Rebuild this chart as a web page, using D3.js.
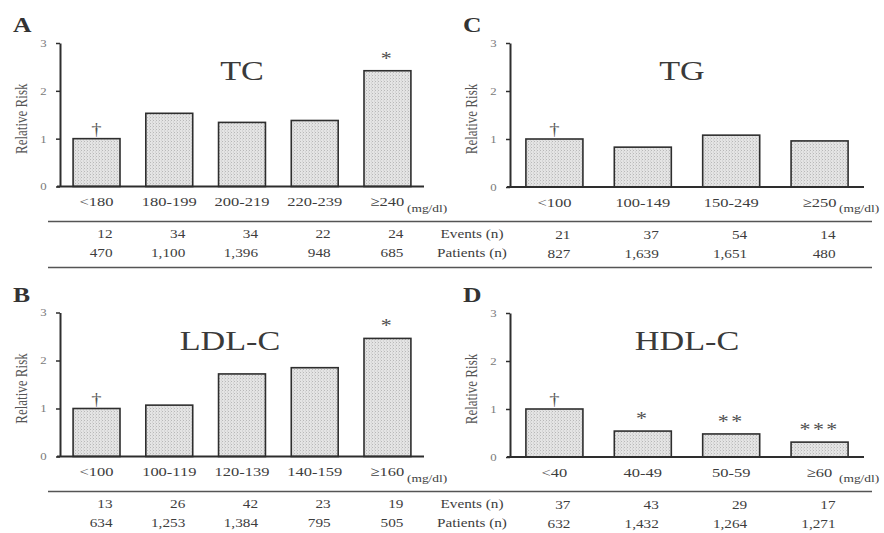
<!DOCTYPE html>
<html>
<head>
<meta charset="utf-8">
<script src="https://cdn.jsdelivr.net/npm/d3@7"></script>
<style>
  html, body { margin: 0; padding: 0; background: #ffffff; }
  svg { display: block; }
</style>
</head>
<body>
<svg id="chart" width="884" height="533"></svg>
<script>
// ---------------- DATA ----------------
const catTC = ["<180", "180-199", "200-219", "220-239", "≥240"];
const rrTC = [1.0, 1.53, 1.34, 1.38, 2.42];
const eventsTC = [12, 34, 34, 22, 24];
const patientsTC = [470, 1100, 1396, 948, 685];
const markersTC = ["†", "", "", "", "*"];

const catTG = ["<100", "100-149", "150-249", "≥250"];
const rrTG = [1.0, 0.83, 1.08, 0.96];
const eventsTG = [21, 37, 54, 14];
const patientsTG = [827, 1639, 1651, 480];
const markersTG = ["†", "", "", ""];

const catLDL = ["<100", "100-119", "120-139", "140-159", "≥160"];
const rrLDL = [1.0, 1.07, 1.72, 1.85, 2.46];
const eventsLDL = [13, 26, 42, 23, 19];
const patientsLDL = [634, 1253, 1384, 795, 505];
const markersLDL = ["†", "", "", "", "*"];

const catHDL = ["<40", "40-49", "50-59", "≥60"];
const rrHDL = [1.0, 0.54, 0.48, 0.31];
const eventsHDL = [37, 43, 29, 17];
const patientsHDL = [632, 1432, 1264, 1271];
const markersHDL = ["†", "*", "**", "***"];

const yTicks = [0, 1, 2, 3];
const unitLabel = "(mg/dl)";
const rowLabels = ["Events (n)", "Patients (n)"];
const yAxisLabel = "Relative Risk";

// ---------------- STYLE / LAYOUT ----------------
const SX = 1.22;                 // horizontal stretch of the scanned lettering
const FONT = "'Liberation Serif','Times New Roman',serif";
const TEXT = "#3d3d3d";
const LIGHT = "#7a7a7a";
const INK = "#2e2e2e";

const panels = [
  { id: "A", title: "TC",    cats: catTC,  rr: rrTC,  ev: eventsTC,  pt: patientsTC,  mk: markersTC,  x0: 60,  x1: 424, yT: 43,    yB: 186.5, tdx: 0,   udx: -17 },
  { id: "C", title: "TG",    cats: catTG,  rr: rrTG,  ev: eventsTG,  pt: patientsTG,  mk: markersTG,  x0: 510, x1: 864, yT: 43,    yB: 187,   tdx: -5,  udx: -25 },
  { id: "B", title: "LDL-C", cats: catLDL, rr: rrLDL, ev: eventsLDL, pt: patientsLDL, mk: markersLDL, x0: 60,  x1: 424, yT: 312.5, yB: 456.5, tdx: -12, udx: -17 },
  { id: "D", title: "HDL-C", cats: catHDL, rr: rrHDL, ev: eventsHDL, pt: patientsHDL, mk: markersHDL, x0: 510, x1: 864, yT: 313,   yB: 457,   tdx: 0,   udx: -25 }
];

const svg = d3.select("#chart");

// stipple pattern for bars
const defs = svg.append("defs");
const pat = defs.append("pattern").attr("id", "stip")
  .attr("width", 3).attr("height", 3).attr("patternUnits", "userSpaceOnUse");
pat.append("rect").attr("width", 3).attr("height", 3).attr("fill", "#e4e4e4");
pat.append("rect").attr("x", 0).attr("y", 0).attr("width", 1).attr("height", 1).attr("fill", "#b8b8b8");
pat.append("rect").attr("x", 2).attr("y", 1.5).attr("width", 1).attr("height", 1).attr("fill", "#c8c8c8");

function txt(g, x, y, s, o = {}) {
  return g.append("text")
    .attr("transform", `translate(${x},${y}) scale(${SX},1)` + (o.rotate ? ` rotate(${o.rotate})` : ""))
    .attr("text-anchor", o.anchor || "middle")
    .attr("font-family", FONT)
    .attr("font-size", o.size || 13)
    .attr("font-weight", o.weight || "normal")
    .attr("letter-spacing", o.ls || 0)
    .attr("fill", o.fill || TEXT)
    .text(s);
}

const fmt = d3.format(",");

panels.forEach(p => {
  const g = svg.append("g");
  const x = d3.scaleBand().domain(p.cats).range([p.x0, p.x1])
    .paddingInner(0.355).paddingOuter(0.18);
  const y = d3.scaleLinear().domain([0, 3]).range([p.yB, p.yT]);

  // bars
  g.selectAll("rect.bar").data(p.rr).enter().append("rect")
    .attr("class", "bar")
    .attr("x", (d, i) => x(p.cats[i]))
    .attr("y", d => y(d))
    .attr("width", x.bandwidth())
    .attr("height", d => y(0) - y(d))
    .attr("fill", "url(#stip)")
    .attr("stroke", INK)
    .attr("stroke-width", 1.6);

  // significance markers
  p.mk.forEach((m, i) => {
    if (!m) return;
    const cx = x(p.cats[i]) + x.bandwidth() / 2;
    if (m === "†") {
      txt(g, cx, y(p.rr[i]) - 4, m, { size: 17, fill: "#555" });
    } else {
      txt(g, cx, y(p.rr[i]) - 6, m, { size: 18, fill: "#505050", ls: 2 });
    }
  });

  // y axis
  const ya = g.append("g").attr("transform", `translate(${p.x0},0)`)
    .call(d3.axisLeft(y).tickValues(yTicks).tickSize(4).tickSizeOuter(0).tickPadding(7).tickFormat(d3.format("d")));
  ya.select(".domain").attr("stroke", INK).attr("stroke-width", 2);
  ya.selectAll(".tick line").attr("stroke", INK).attr("stroke-width", 1.5);
  ya.selectAll(".tick text")
    .attr("font-family", FONT).attr("font-size", 10.5).attr("fill", LIGHT)
    .attr("transform", `scale(${SX},1)`);

  // x axis with category labels
  const xa = g.append("g").attr("transform", `translate(0,${p.yB})`)
    .call(d3.axisBottom(x).tickSize(0).tickSizeOuter(0).tickPadding(10));
  xa.select(".domain").attr("stroke", INK).attr("stroke-width", 2)
    .attr("d", `M${p.x0 - 3},0H${p.x1}`);
  xa.selectAll(".tick text")
    .attr("font-family", FONT).attr("font-size", 13.5).attr("fill", TEXT)
    .attr("transform", `scale(${SX},1)`);

  // unit label
  txt(g, p.x1 + p.udx, p.yB + 25, unitLabel, { size: 11, anchor: "start" });

  // y axis title
  txt(g, p.x0 - 33, (p.yT + p.yB) / 2 + 4, yAxisLabel, { size: 13, rotate: -90, fill: "#555" });

  // panel letter
  txt(g, p.x0 - 47, p.yT - 11, p.id, { size: 21, weight: "bold", anchor: "start", fill: "#333" });

  // panel title
  txt(g, (p.x0 + p.x1) / 2 + p.tdx, p.yT + 37, p.title, { size: 28, fill: "#3a3a3a" });

  // table values (right aligned per column)
  p.ev.forEach((v, i) => {
    const cx = x(p.cats[i]) + x.bandwidth() / 2 + 16;
    txt(g, cx, p.yB + 51.5, fmt(v), { size: 12.5, anchor: "end" });
    txt(g, cx, p.yB + 70.5, fmt(p.pt[i]), { size: 12.5, anchor: "end" });
  });
});

// table rules and row labels (shared across each row of panels)
[panels[0], panels[2]].forEach(p => {
  const g = svg.append("g");
  [p.yB + 35, p.yB + 81].forEach(yy => {
    g.append("line").attr("x1", 48).attr("x2", 872).attr("y1", yy).attr("y2", yy)
      .attr("stroke", "#555").attr("stroke-width", 1.6);
  });
  txt(g, 472, p.yB + 51.5, rowLabels[0], { size: 12.5 });
  txt(g, 472, p.yB + 70.5, rowLabels[1], { size: 12.5 });
});
</script>
</body>
</html>
